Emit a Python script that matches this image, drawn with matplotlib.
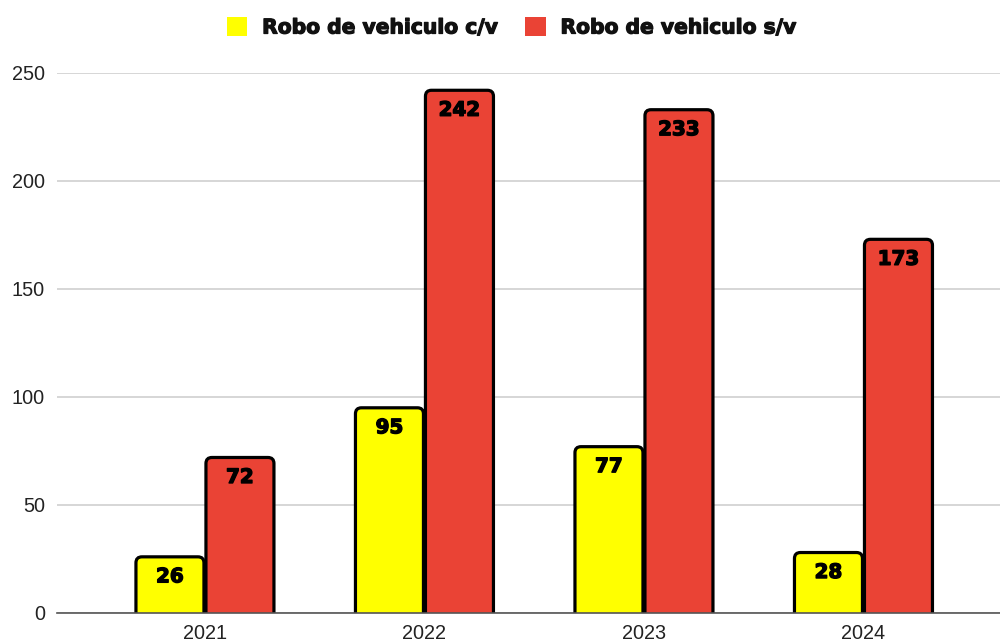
import matplotlib
matplotlib.use("Agg")
import matplotlib.pyplot as plt
from matplotlib.patches import FancyBboxPatch, Patch
import matplotlib.patheffects as pe
import numpy as np

years = ["2021", "2022", "2023", "2024"]
con_violencia = [26, 95, 77, 28]
sin_violencia = [72, 242, 233, 173]
series_names = ["Robo de vehiculo c/v", "Robo de vehiculo s/v"]
colors = ["#FFFF00", "#EA4335"]
yticks = [0, 50, 100, 150, 200, 250]

plt.rcParams['font.family'] = ['Liberation Sans', 'DejaVu Sans']
BOLD = ['DejaVu Sans']
heavy = [pe.withStroke(linewidth=1.0, foreground="black")]

W, H = 1000, 644
fig = plt.figure(figsize=(W / 100, H / 100), dpi=100)
ax_left, ax_right, ax_bottom, ax_top = 57, 1000, 613, 73
ax = fig.add_axes([ax_left / W, (H - ax_bottom) / H,
                   (ax_right - ax_left) / W, (ax_bottom - ax_top) / H])

x = np.arange(len(years))
xmin, xmax = -0.674, 3.622
ax.set_ylim(0, 250)
ax.set_xlim(xmin, xmax)

px_per_x = (ax_right - ax_left) / (xmax - xmin)
px_per_y = (ax_bottom - ax_top) / 250.0
width = 68 / px_per_x
offset = 35 / px_per_x
r_px = 6.0

for vals, col, off in [(con_violencia, colors[0], -offset), (sin_violencia, colors[1], offset)]:
    for xi, v in zip(x, vals):
        x0 = xi + off - width / 2
        y0 = -10.0
        p = FancyBboxPatch((x0, y0), width, v - y0,
                           boxstyle=f"round,pad=0,rounding_size={r_px / px_per_x}",
                           mutation_aspect=px_per_x / px_per_y,
                           facecolor=col, edgecolor="black", linewidth=2.3,
                           zorder=3, clip_on=True)
        ax.add_patch(p)
        ax.text(xi + off, v - 20 / px_per_y, str(v), ha="center", va="center",
                fontsize=14.3, fontweight="bold", family=BOLD, color="black", zorder=4,
                path_effects=heavy)

ax.set_yticks(yticks)
ax.set_xticks(x)
ax.set_xticklabels(years)
ax.yaxis.grid(True, color="#cccccc", linewidth=1.1)
ax.set_axisbelow(True)
for s in ["top", "right", "left"]:
    ax.spines[s].set_visible(False)
ax.spines["bottom"].set_color("#555555")
ax.spines["bottom"].set_linewidth(1.2)
ax.spines["bottom"].set_zorder(5)
ax.tick_params(axis="both", length=0, labelsize=14.3, colors="#222222")
ax.tick_params(axis="y", pad=8.7)
ax.tick_params(axis="x", pad=8)

handles = [Patch(facecolor=c, edgecolor="none") for c in colors]
leg = fig.legend(handles, series_names, loc="center", bbox_to_anchor=(0.5115, 1 - 27.5 / H),
                 ncol=2, frameon=False, prop={"weight": "bold", "size": 14.6, "family": BOLD},
                 handlelength=1.0, handleheight=1.0, handletextpad=0.73, columnspacing=1.37,
                 borderpad=0, borderaxespad=0)
for t in leg.get_texts():
    t.set_color("#111111")
    t.set_path_effects([pe.withStroke(linewidth=0.9, foreground="#111111")])

fig.savefig("out.png", dpi=100)
